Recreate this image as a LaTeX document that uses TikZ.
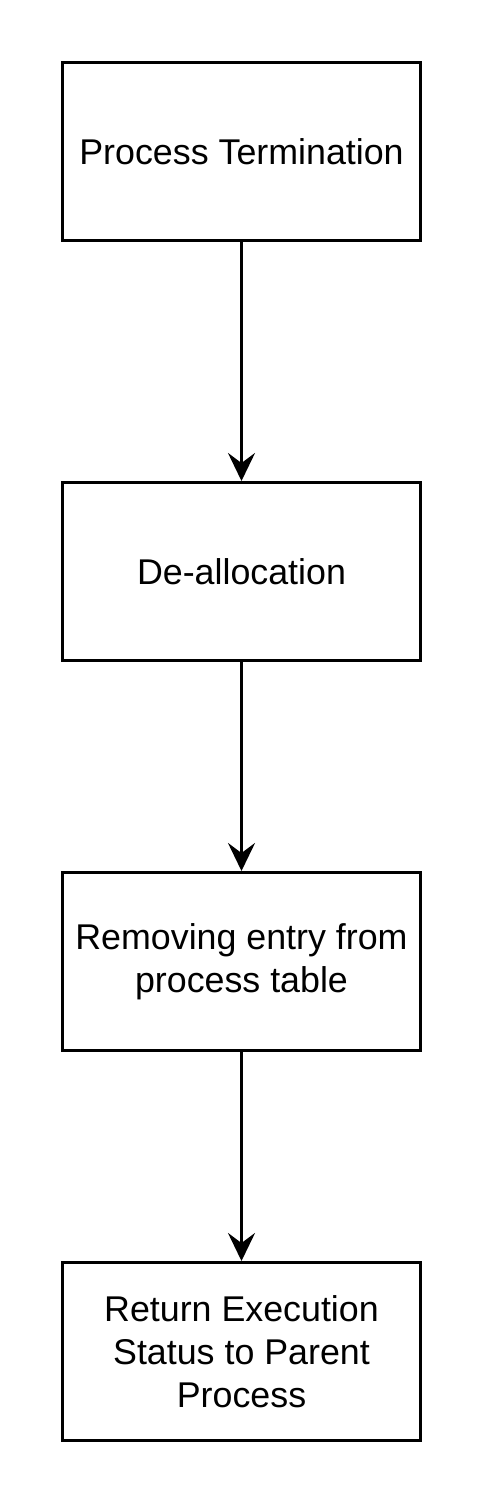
\documentclass[tikz,border=0pt]{standalone}
\usepackage{fontspec}
\setmainfont{Liberation Sans}
\usetikzlibrary{arrows.meta}
\begin{document}
\begin{tikzpicture}[x=1pt,y=-1pt,
  stepbox/.style={draw=black, line width=3pt, fill=white, minimum width=358pt, minimum height=178pt,
    align=center, inner sep=0pt, font=\fontsize{35.8pt}{43.2pt}\selectfont},
  flow/.style={draw=black, line width=3pt, -{Stealth[length=28pt,width=27pt,inset=10pt]}}]
\useasboundingbox (0,0) rectangle (483,1503);
\fill[white] (0,0) rectangle (483,1503);
\node[stepbox] (a) at (241.5,151.5) {Process Termination};
\node[stepbox] (b) at (241.5,571.5) {De-allocation};
\node[stepbox] (c) at (241.5,961.5) {Removing entry from\\process table};
\node[stepbox] (d) at (241.5,1351.5) {Return Execution\\Status to Parent\\Process};
\draw[flow] (a) -- (b);
\draw[flow] (b) -- (c);
\draw[flow] (c) -- (d);
\end{tikzpicture}
\end{document}
